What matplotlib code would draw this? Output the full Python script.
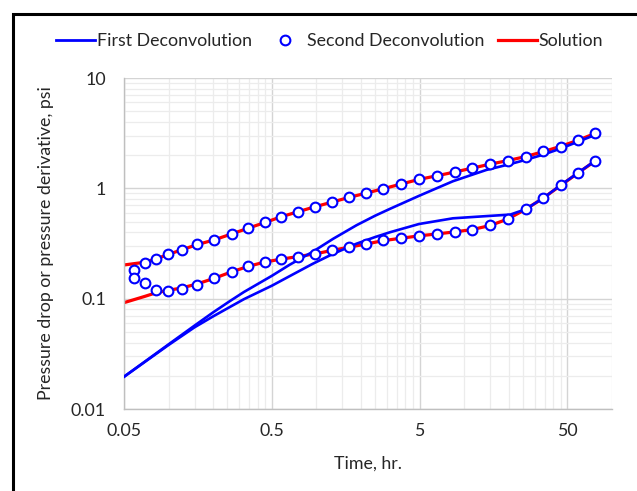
import matplotlib
matplotlib.use("Agg")
import matplotlib.pyplot as plt
from matplotlib.ticker import FixedLocator, FixedFormatter, NullFormatter
from matplotlib.patches import Rectangle
from matplotlib.lines import Line2D

plt.rcParams['font.family'] = ['Lato', 'DejaVu Sans']

# ---- Data ----
# Second deconvolution (circles)
t_second = [0.0587, 0.0693, 0.0822, 0.0996, 0.1227, 0.1563, 0.2037, 0.267, 0.3458,
            0.4483, 0.5779, 0.7528, 0.9869, 1.278, 1.665, 2.182, 2.842, 3.76, 4.947,
            6.543, 8.62, 11.35, 14.93, 19.75, 26.01, 34.26, 44.84, 59.06, 76.94]
dp_second = [0.181, 0.210, 0.227, 0.254, 0.278, 0.311, 0.340, 0.388, 0.434, 0.492,
             0.553, 0.614, 0.682, 0.747, 0.829, 0.907, 0.993, 1.095, 1.208, 1.294,
             1.407, 1.520, 1.663, 1.780, 1.923, 2.168, 2.384, 2.723, 3.15]
der_second = [0.154, 0.139, 0.121, 0.117, 0.122, 0.134, 0.154, 0.176, 0.196, 0.216,
              0.228, 0.240, 0.254, 0.274, 0.292, 0.313, 0.338, 0.352, 0.372, 0.386,
              0.402, 0.422, 0.462, 0.527, 0.646, 0.817, 1.065, 1.386, 1.779]

# Solution (red)
t_sol = [0.05, 0.0693, 0.0822, 0.0996, 0.1227, 0.1563, 0.2037, 0.267, 0.3458,
         0.4483, 0.5779, 0.7528, 0.9869, 1.278, 1.665, 2.182, 2.842, 3.76, 4.947,
         6.543, 8.62, 11.35, 14.93, 19.75, 26.01, 34.26, 44.84, 59.06, 76.94]
dp_sol = [0.202, 0.214, 0.229, 0.252, 0.277, 0.309, 0.341, 0.386, 0.435, 0.490,
          0.552, 0.614, 0.683, 0.750, 0.828, 0.906, 0.993, 1.095, 1.205, 1.300,
          1.405, 1.525, 1.655, 1.785, 1.94, 2.15, 2.40, 2.73, 3.15]
der_sol = [0.092, 0.105, 0.113, 0.119, 0.125, 0.136, 0.153, 0.175, 0.196, 0.215,
           0.228, 0.241, 0.255, 0.274, 0.293, 0.313, 0.336, 0.353, 0.371, 0.386,
           0.403, 0.423, 0.460, 0.527, 0.645, 0.815, 1.06, 1.38, 1.77]

# First deconvolution (blue lines)
t_first = [0.05, 0.1, 0.15, 0.2, 0.26, 0.324, 0.5, 0.66, 0.945, 1.3, 1.87, 2.5, 3.15,
           4.95, 8.4, 14.1, 20.5, 26.0, 34.3, 44.8, 59.1, 76.9]
dp_first = [0.0196, 0.0385, 0.057, 0.075, 0.095, 0.115, 0.161, 0.203, 0.266, 0.349,
            0.463, 0.565, 0.652, 0.855, 1.16, 1.466, 1.66, 1.81, 2.02, 2.29, 2.65, 3.05]
der_first = [0.0196, 0.038, 0.055, 0.069, 0.084, 0.099, 0.131, 0.160, 0.207, 0.255,
             0.315, 0.362, 0.40, 0.475, 0.535, 0.56, 0.578, 0.6457, 0.8166, 1.065,
             1.386, 1.779]

x_major = [0.05, 0.5, 5, 50]
x_labels = ["0.05", "0.5", "5", "50"]
y_major = [0.01, 0.1, 1, 10]
y_labels = ["0.01", "0.1", "1", "10"]

# ---- Figure ----
W, H = 637, 491
fig = plt.figure(figsize=(W / 100, H / 100), dpi=100)
ax = fig.add_axes([124 / W, 1 - 409 / H, (612 - 124) / W, (409 - 78) / H])

BLUE = '#0000FF'
RED = '#FF0000'
FS = 12.8

ax.plot(t_sol, dp_sol, color=RED, lw=2.3, zorder=2, solid_capstyle='butt')
ax.plot(t_sol, der_sol, color=RED, lw=2.3, zorder=2, solid_capstyle='butt')
ax.plot(t_first, dp_first, color=BLUE, lw=1.9, zorder=3)
ax.plot(t_first, der_first, color=BLUE, lw=1.9, zorder=3)
ax.plot(t_second, dp_second, ls='none', marker='o', ms=7.0, mfc='white', mec=BLUE,
        mew=1.5, zorder=4)
ax.plot(t_second, der_second, ls='none', marker='o', ms=7.0, mfc='white', mec=BLUE,
        mew=1.5, zorder=4)

ax.set_xscale('log')
ax.set_yscale('log')
ax.set_xlim(0.05, 100)
ax.set_ylim(0.01, 10)

x_minor = []
for base in [0.05, 0.5, 5, 50]:
    for k in range(2, 10):
        v = base * k
        if v <= 100.0001:
            x_minor.append(v)
y_minor = []
for base in [0.01, 0.1, 1]:
    for k in range(2, 10):
        y_minor.append(base * k)

ax.xaxis.set_major_locator(FixedLocator(x_major))
ax.xaxis.set_major_formatter(FixedFormatter(x_labels))
ax.xaxis.set_minor_locator(FixedLocator(x_minor))
ax.xaxis.set_minor_formatter(NullFormatter())
ax.yaxis.set_major_locator(FixedLocator(y_major))
ax.yaxis.set_major_formatter(FixedFormatter(y_labels))
ax.yaxis.set_minor_locator(FixedLocator(y_minor))
ax.yaxis.set_minor_formatter(NullFormatter())

ax.grid(which='major', color='#d4d4d4', lw=1.0, zorder=0)
ax.grid(which='minor', color='#ececec', lw=0.9, zorder=0)
ax.set_axisbelow(True)

ax.tick_params(which='both', length=0)
ax.tick_params(axis='y', pad=13, labelsize=FS, colors='#262626')
ax.tick_params(axis='x', pad=10, labelsize=FS, colors='#262626')

for s in ['top', 'right']:
    ax.spines[s].set_visible(False)
for s in ['left', 'bottom']:
    ax.spines[s].set_color('#bfbfbf')
    ax.spines[s].set_linewidth(1.0)

ax.set_xlabel('Time, hr.', fontsize=FS, color='#262626', labelpad=12)
ax.set_ylabel('Pressure drop or pressure derivative, psi', fontsize=FS,
              color='#262626', labelpad=12)

handles = [
    Line2D([], [], color=BLUE, lw=2.0),
    Line2D([], [], ls='none', marker='o', ms=7.0, mfc='white', mec=BLUE, mew=1.5),
    Line2D([], [], color=RED, lw=2.3),
]
fig.legend(handles, ['First Deconvolution', 'Second Deconvolution', 'Solution'],
           loc='center', bbox_to_anchor=(329.5 / W, 1 - 41 / H), ncol=3,
           frameon=False, fontsize=FS, handlelength=2.2, handletextpad=0.12,
           columnspacing=0.76, borderaxespad=0, labelcolor='#262626')

# outer black frame (only top and left edges fall inside the image)
fig.add_artist(Rectangle((12.5 / W, -0.2), 1.5, 1.2 - 14 / H, fill=False,
                         edgecolor='black', lw=2.2, transform=fig.transFigure,
                         clip_on=False))

fig.savefig('out.png', dpi=100)
